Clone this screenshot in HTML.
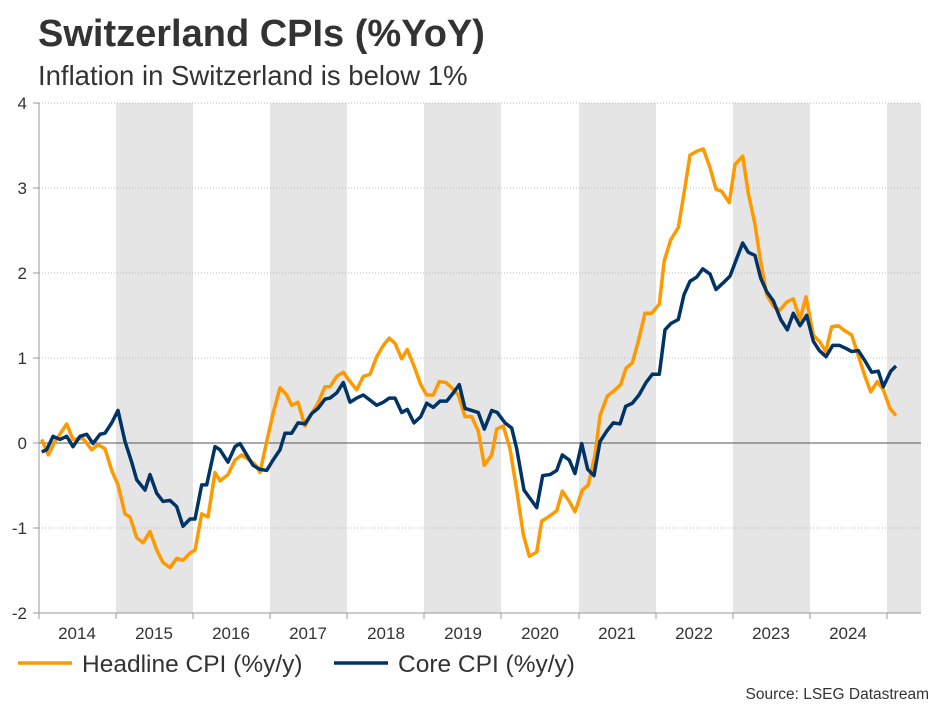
<!DOCTYPE html>
<html><head><meta charset="utf-8"><style>
body{margin:0;background:#fff;width:941px;height:706px;overflow:hidden;font-family:"Liberation Sans",Arial,sans-serif}
</style></head><body>
<svg width="941" height="706" xmlns="http://www.w3.org/2000/svg" font-family="Liberation Sans, Arial, sans-serif">
<text x="38" y="46" font-size="38" font-weight="bold" fill="#333">Switzerland CPIs (%YoY)</text>
<text x="38" y="85" font-size="27.5" fill="#333">Inflation in Switzerland is below 1%</text>
<g fill="#e5e5e5">
<rect x="116" y="103" width="77" height="510"/>
<rect x="270" y="103" width="77" height="510"/>
<rect x="424" y="103" width="77" height="510"/>
<rect x="579" y="103" width="77" height="510"/>
<rect x="733" y="103" width="77" height="510"/>
<rect x="887" y="103" width="34" height="510"/>
</g>
<g stroke="#bbb" stroke-width="1" stroke-dasharray="1,2">
<line x1="39" x2="921" y1="103" y2="103"/><line x1="39" x2="921" y1="188" y2="188"/>
<line x1="39" x2="921" y1="273" y2="273"/><line x1="39" x2="921" y1="358" y2="358"/>
<line x1="39" x2="921" y1="528" y2="528"/>
</g>
<line x1="39" x2="921" y1="443" y2="443" stroke="#555" stroke-width="1"/>
<line x1="39" x2="921" y1="613" y2="613" stroke="#999"/>
<line x1="39" x2="39" y1="103" y2="613" stroke="#999"/>
<g stroke="#999">
<line x1="33" x2="39" y1="103" y2="103"/><line x1="33" x2="39" y1="188" y2="188"/><line x1="33" x2="39" y1="273" y2="273"/><line x1="33" x2="39" y1="358" y2="358"/><line x1="33" x2="39" y1="443" y2="443"/><line x1="33" x2="39" y1="528" y2="528"/><line x1="33" x2="39" y1="613" y2="613"/>
<line x1="39" x2="39" y1="613" y2="619"/><line x1="116" x2="116" y1="613" y2="619"/><line x1="193" x2="193" y1="613" y2="619"/><line x1="270" x2="270" y1="613" y2="619"/><line x1="347" x2="347" y1="613" y2="619"/><line x1="424" x2="424" y1="613" y2="619"/><line x1="501" x2="501" y1="613" y2="619"/><line x1="579" x2="579" y1="613" y2="619"/><line x1="656" x2="656" y1="613" y2="619"/><line x1="733" x2="733" y1="613" y2="619"/><line x1="810" x2="810" y1="613" y2="619"/><line x1="887" x2="887" y1="613" y2="619"/>
</g>
<g font-size="17" fill="#333" text-anchor="end">
<text x="27" y="109">4</text><text x="27" y="194">3</text><text x="27" y="279">2</text><text x="27" y="364">1</text><text x="27" y="449">0</text><text x="27" y="534">-1</text><text x="27" y="619">-2</text>
</g>
<g font-size="17" fill="#333" text-anchor="middle">
<text x="77" y="639">2014</text><text x="154" y="639">2015</text><text x="231" y="639">2016</text><text x="308" y="639">2017</text><text x="386" y="639">2018</text><text x="463" y="639">2019</text><text x="540" y="639">2020</text><text x="617" y="639">2021</text><text x="694" y="639">2022</text><text x="771" y="639">2023</text><text x="848" y="639">2024</text>
</g>
<g transform="translate(0,90) scale(1,1.0338) translate(0,-90)">
<polyline fill="none" stroke="#FF9900" stroke-width="3.5" vector-effect="non-scaling-stroke" stroke-linejoin="round" points="41.7,428 48.3,443 55,430 66.7,413 73,428 83,427 91.7,438 98,433 105,437 111.7,458 118,472 125,500 130,503 136.7,523 143,528 150,517 156.7,535 163,547 170,552 176.7,543 183,545 190,538 195,535 201.7,500 208,503 215,460 220,468 228,462 235,448 241.7,443 248,447 255,452 260,460 266.7,430 273,403 280,378 286.7,385 291.7,395 298,392 305,415 311.7,403 318,393 325,377 330,377 336.7,367 343.3,363 350,372 356.7,380 363.3,367 370,365 376.7,348 383.3,337 389.3,330 395,335 401.7,350 407.3,341 414,357 420.7,375 426.7,385 433.3,385 439.3,372 446,373 451.7,378 458.3,385 465,406 471.7,406 478.3,420 484.3,453 491.7,443 496.7,418 503.3,415 510,437 516.7,477 523.3,520 529.3,541 536.7,537 541.7,507 548.3,503 556.7,497 562.3,478 569.3,488 575,498 582.3,477 588.3,472 595,443 600,405 607.3,386 614,381 620.7,375 626,359 632.3,354 638.3,333 645,306 651.7,306 659.3,297 664.3,255 670.7,235 678.3,223 684,190 690,153 697.3,149 703.3,147 710,165 716,186 721.7,188 729.3,199 735,162 742.7,154 748.3,190 755,220 760,252 766.7,288 774,300 780,303 786.7,295 793.3,292 800,312 806,290 813.3,327 820,334 825.7,343 831.7,319 838.3,318 845,323 851.7,327 858.3,347 865,367 870.7,382 877.3,372 883.3,380 890,398 896,405"/>
<polyline fill="none" stroke="#003366" stroke-width="3.5" vector-effect="non-scaling-stroke" stroke-linejoin="round" points="41.7,440 46.7,438 53,425 60,428 66.7,425 73,435 80,425 86.7,423 93,432 100,423 105,422 111.7,412 118,400 125,430 131.7,450 136.7,467 145,477 150,462 156.7,480 163,488 170,487 176.7,493 183,512 190,505 195,505 201.7,472 206.7,472 215,435 220,438 228,450 235,435 240,432 246.7,443 253,453 260,457 266.7,458 273,448 280,438 285,422 291.7,422 298,412 305,413 311.7,403 318,398 325,389 330,388 336.7,383 343.3,373 350,392 356.7,388 363.3,385 370,390 376.7,395 383.3,392 389.3,388 395,388 401.7,402 407.3,399 414,412 420.7,406 426.7,393 433.3,397 440,391 446.7,391 453.3,383 459.3,375 465,398 471.7,400 478.3,402 484.3,418 491.7,400 497.3,402 505,412 511.7,417 516.7,437 524,477 530,485 536.7,494 542.7,463 550,462 556.7,458 562.3,443 569.3,448 575,461 581.7,432 587.7,457 594,463 600,430 606.7,420 613.3,412 620,413 625.7,396 632.3,393 639,385 646,373 652.3,365 659.3,365 665,322 670.7,316 678.3,312 684,288 690,275 696.7,271 702.7,263 710,268 716,283 722.7,277 730,270 736.7,253 742.7,238 748.3,247 755,250 760.7,272 766.7,285 773.3,294 780.7,312 787.3,322 793.3,306 800,318 806.7,308 813.3,333 819.3,342 826,348 832.7,337 839.3,337 846,340 851.7,343 858.3,342 865,352 871.7,363 878.3,362 883.3,377 890.7,362 896,357"/>
</g>
<line x1="18" x2="72" y1="663" y2="663" stroke="#FF9900" stroke-width="3.5"/>
<text x="82" y="672" font-size="24.5" fill="#333">Headline CPI (%y/y)</text>
<line x1="334" x2="388" y1="663" y2="663" stroke="#003366" stroke-width="3.5"/>
<text x="398" y="672" font-size="24.5" fill="#333">Core CPI (%y/y)</text>
<text x="929" y="699" font-size="15.5" fill="#333" text-anchor="end">Source: LSEG Datastream</text>
</svg>
</body></html>
